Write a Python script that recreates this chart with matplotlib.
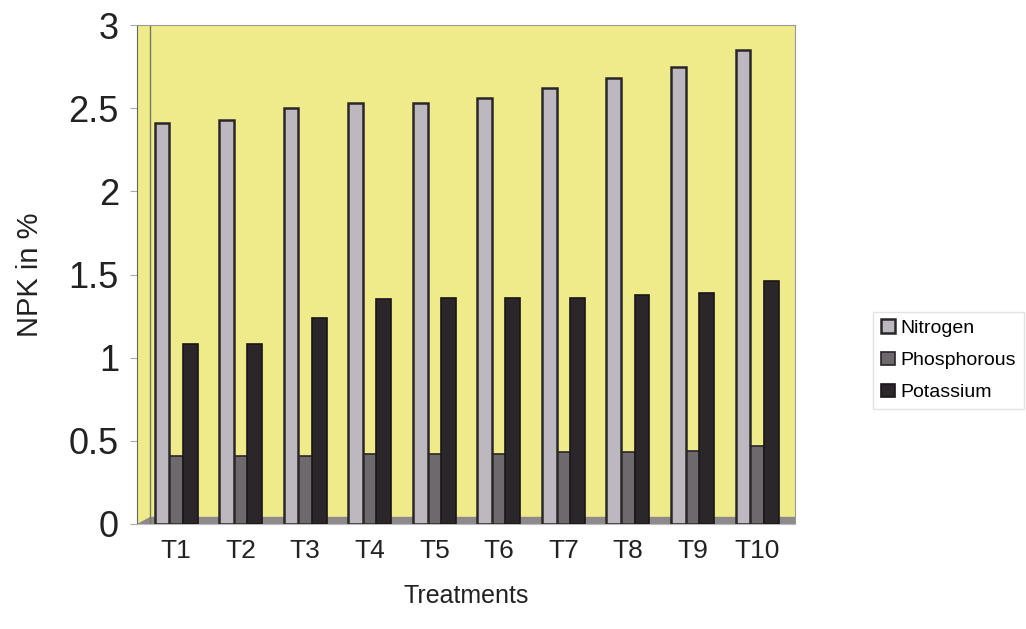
# NPK content per treatment
import numpy as np
import matplotlib.pyplot as plt
from matplotlib.patches import Polygon

plt.rcParams['font.family'] = ['Liberation Sans', 'DejaVu Sans']

treatments = ["T1", "T2", "T3", "T4", "T5", "T6", "T7", "T8", "T9", "T10"]
nitrogen = [2.41, 2.43, 2.50, 2.53, 2.53, 2.56, 2.62, 2.68, 2.75, 2.85]
phosphorous = [0.41, 0.41, 0.41, 0.42, 0.42, 0.42, 0.43, 0.43, 0.44, 0.47]
potassium = [1.08, 1.08, 1.24, 1.35, 1.36, 1.36, 1.36, 1.38, 1.39, 1.46]

fig = plt.figure(figsize=(10.26, 6.29), dpi=100)
ax = fig.add_axes([0.1335, 0.167, 0.6415, 0.793])
ax.set_facecolor("#EFEB8A")

x = np.arange(len(treatments))
off = 0.218
w = 0.23
ax.bar(x - off, nitrogen, w, color="#BDB7BF", edgecolor="#2a2628", linewidth=1.8, label="Nitrogen", zorder=3)
ax.bar(x, phosphorous, w, color="#6D696D", edgecolor="#2a2628", linewidth=1.2, label="Phosphorous", zorder=2)
ax.bar(x + off, potassium, w, color="#2A262A", edgecolor="#1a1618", linewidth=1.2, label="Potassium", zorder=3)

# 3d-ish floor and side wall
floor = Polygon([(0, 0), (1, 0), (1.0, 0.014), (0.02, 0.014)], closed=True,
                transform=ax.transAxes, color="#8e8a8c", zorder=1)
ax.add_patch(floor)
ax.axvline(-0.605 + 13 / 64.5, color="#777766", linewidth=1.0, zorder=1)

ax.set_xlim(-0.605, 9.59)
ax.set_ylim(0, 3)
ax.set_yticks([0, 0.5, 1, 1.5, 2, 2.5, 3])
ax.set_yticklabels(["0", "0.5", "1", "1.5", "2", "2.5", "3"], fontsize=26)
ax.set_xticks(x)
ax.set_xticklabels(treatments, fontsize=19, color="#222222")
ax.tick_params(axis="x", length=0, pad=11)
ax.tick_params(axis="y", length=5, color="#aaaaaa", pad=8, labelcolor="#222222")
for s in ["top", "right"]:
    ax.spines[s].set_color("#999999")
ax.spines["left"].set_color("#666666")
ax.spines["bottom"].set_color("#bbbbbb")

ax.set_xlabel("Treatments", fontsize=18, labelpad=15, color="#222222")
ax.set_ylabel("NPK in %", fontsize=21, labelpad=18, color="#222222")

leg = fig.legend(loc="center left", bbox_to_anchor=(0.851, 0.427), fontsize=14,
                 frameon=True, fancybox=False, edgecolor="#dddddd",
                 handlelength=0.7, handleheight=0.7, handletextpad=0.3,
                 labelspacing=0.75, borderpad=0.4, borderaxespad=0)

plt.savefig("out.png", dpi=100)
